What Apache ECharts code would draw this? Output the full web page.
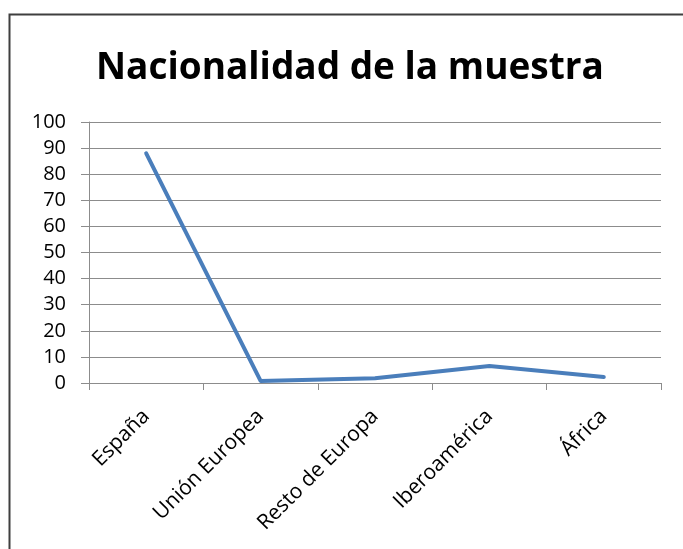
<!DOCTYPE html>
<html>
<head>
<meta charset="utf-8">
<script src="https://cdn.jsdelivr.net/npm/echarts@6/dist/echarts.min.js"></script>
<style>
html, body { margin: 0; padding: 0; background: #fff; }
#chart { width: 683px; height: 549px; }
</style>
</head>
<body>
<div id="chart"></div>
<script>
// Origen de los encuestados (porcentaje)
const categories = ['España', 'Unión Europea', 'Resto de Europa', 'Iberoamérica', 'África'];
const percentages = [88, 0.8, 1.8, 6.5, 2.3];
const yTicks = { min: 0, max: 100, interval: 10 };

const chart = echarts.init(document.getElementById('chart'), null, { renderer: 'canvas' });

const gridLeft = 89, gridRight = 22, gridTop = 122, gridBottom = 166;

chart.setOption({
  animation: false,
  backgroundColor: '#ffffff',
  title: {
    text: 'Nacionalidad de la muestra',
    left: 91,
    top: 45,
    textStyle: {
      fontFamily: 'Open Sans',
      fontWeight: 'bold',
      fontSize: 37,
      color: '#000000'
    }
  },
  graphic: [{
    type: 'rect',
    shape: { x: 9.5, y: 14.5, width: 700, height: 560 },
    style: { fill: 'none', stroke: '#3f3f3f', lineWidth: 2 },
    silent: true
  }],
  grid: { left: gridLeft, right: gridRight, top: gridTop, bottom: gridBottom },
  xAxis: {
    type: 'category',
    data: categories,
    boundaryGap: true,
    axisLine: { lineStyle: { color: '#8c8c8c', width: 1 } },
    axisTick: { show: true, length: 7, lineStyle: { color: '#8c8c8c' } },
    axisLabel: {
      rotate: 45,
      margin: 30,
      fontFamily: 'Open Sans',
      fontSize: 21,
      color: '#000000',
      interval: 0
    }
  },
  yAxis: {
    type: 'value',
    min: yTicks.min,
    max: yTicks.max,
    interval: yTicks.interval,
    axisLine: { show: true, lineStyle: { color: '#8c8c8c', width: 1 } },
    axisTick: { show: true, length: 8, lineStyle: { color: '#8c8c8c' } },
    axisLabel: {
      margin: 23,
      fontFamily: 'Open Sans',
      fontSize: 20,
      color: '#000000'
    },
    splitLine: { lineStyle: { color: '#8c8c8c', width: 1 } }
  },
  series: [{
    type: 'line',
    data: percentages,
    symbol: 'none',
    lineStyle: { color: '#4a7ebb', width: 4, cap: 'round', join: 'round' }
  }]
});
</script>
</body>
</html>
